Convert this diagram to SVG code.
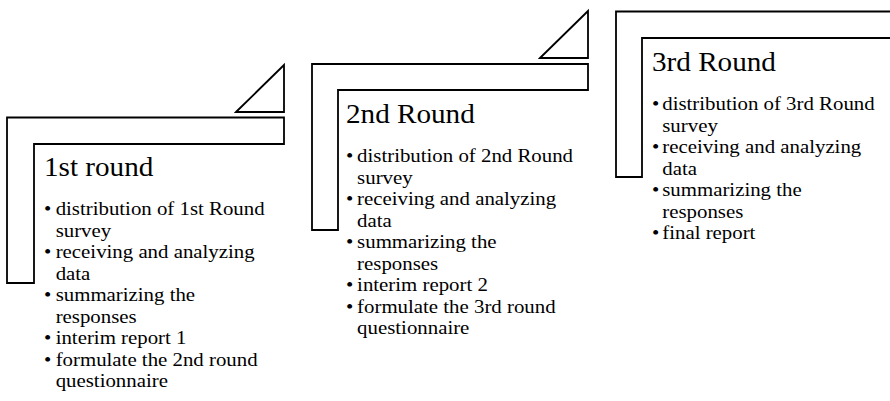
<svg xmlns="http://www.w3.org/2000/svg" width="890" height="401" viewBox="0 0 890 401">
<style>
.shape{fill:#fff;stroke:#000;stroke-width:1.8;stroke-linejoin:miter}
.title{font-family:"Liberation Serif","Times New Roman",serif;font-size:27px;fill:#000}
.item{font-family:"Liberation Serif","Times New Roman",serif;font-size:19.3px;fill:#000}
</style>
<rect width="890" height="401" fill="#fff"/>
<g id="round1">
<path class="shape" d="M236,112 L284,65 L284,112 Z"/>
<path class="shape" d="M7,117.5 H284 V144 H34 V283 H7 Z"/>
<g transform="translate(44,0) scale(1.08,1)">
<text class="title" x="0" y="176">1st round</text>
<text class="item" x="0" y="215.5">•</text><text class="item" x="10.8" y="215.5">distribution of 1st Round</text>
<text class="item" x="10.8" y="237">survey</text>
<text class="item" x="0" y="258.5">•</text><text class="item" x="10.8" y="258.5">receiving and analyzing</text>
<text class="item" x="10.8" y="280">data</text>
<text class="item" x="0" y="301.5">•</text><text class="item" x="10.8" y="301.5">summarizing the</text>
<text class="item" x="10.8" y="323">responses</text>
<text class="item" x="0" y="344.5">•</text><text class="item" x="10.8" y="344.5">interim report 1</text>
<text class="item" x="0" y="366">•</text><text class="item" x="10.8" y="366">formulate the 2nd round</text>
<text class="item" x="10.8" y="387.5">questionnaire</text>
</g>
</g>
<g id="round2">
<path class="shape" d="M540,58 L588,11 L588,58 Z"/>
<path class="shape" d="M312,64 H588 V90 H338 V230 H312 Z"/>
<g transform="translate(346,0) scale(1.08,1)">
<text class="title" x="0" y="123">2nd Round</text>
<text class="item" x="0" y="162.5">•</text><text class="item" x="10.3" y="162.5">distribution of 2nd Round</text>
<text class="item" x="10.3" y="184">survey</text>
<text class="item" x="0" y="205.5">•</text><text class="item" x="10.3" y="205.5">receiving and analyzing</text>
<text class="item" x="10.3" y="227">data</text>
<text class="item" x="0" y="248.5">•</text><text class="item" x="10.3" y="248.5">summarizing the</text>
<text class="item" x="10.3" y="270">responses</text>
<text class="item" x="0" y="291.5">•</text><text class="item" x="10.3" y="291.5">interim report 2</text>
<text class="item" x="0" y="313">•</text><text class="item" x="10.3" y="313">formulate the 3rd round</text>
<text class="item" x="10.3" y="334.5">questionnaire</text>
</g>
</g>
<g id="round3">
<path class="shape" d="M616,11.5 H900 V38 H642 V177 H616 Z"/>
<g transform="translate(652,0) scale(1.08,1)">
<text class="title" x="0" y="71">3rd Round</text>
<text class="item" x="0" y="110.5">•</text><text class="item" x="9.5" y="110.5">distribution of 3rd Round</text>
<text class="item" x="9.5" y="132">survey</text>
<text class="item" x="0" y="153.5">•</text><text class="item" x="9.5" y="153.5">receiving and analyzing</text>
<text class="item" x="9.5" y="175">data</text>
<text class="item" x="0" y="196.5">•</text><text class="item" x="9.5" y="196.5">summarizing the</text>
<text class="item" x="9.5" y="218">responses</text>
<text class="item" x="0" y="239.5">•</text><text class="item" x="9.5" y="239.5">final report</text>
</g>
</g>
<g id="connectors"/>
</svg>
